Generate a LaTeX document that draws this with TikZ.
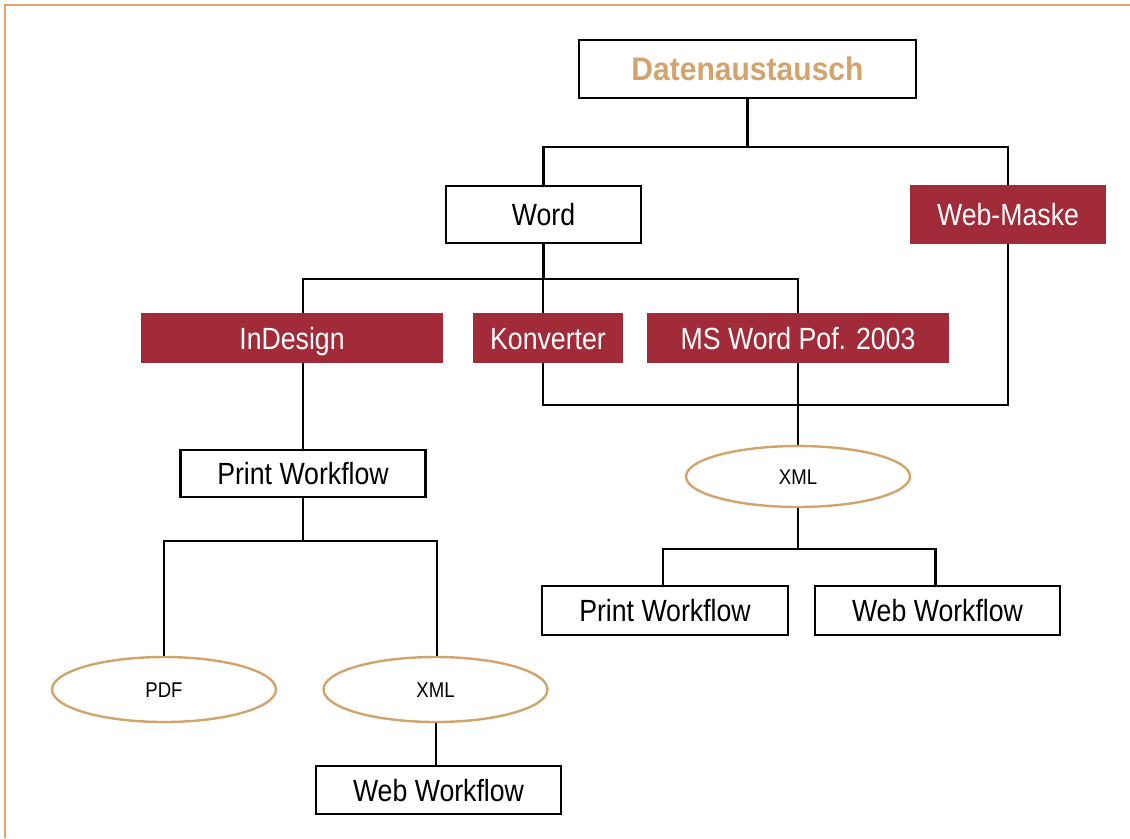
\documentclass[tikz,border=0pt]{standalone}
\usepackage{fontspec}
\setmainfont{Liberation Sans}[FakeStretch=0.87]
\newfontfamily\titlefont{Liberation Sans}[FakeStretch=0.92]
\usepackage{xcolor}
\usepackage{tikz}
\usetikzlibrary{shapes}

\definecolor{weinrot}{HTML}{A22B3A}
\definecolor{sand}{HTML}{D2A46C}
\definecolor{rahmen}{HTML}{E8A26E}

\tikzset{
  kasten/.style={draw=black,line width=2pt,fill=white,inner sep=0pt,
    text height=16.5pt,text depth=0pt,font=\fontsize{23}{26}\selectfont},
  rotkasten/.style={fill=weinrot,text=white,inner sep=0pt,
    text height=16.5pt,text depth=0pt,font=\fontsize{23}{26}\selectfont},
  oval/.style={draw=sand,line width=1.8pt,fill=white,shape=ellipse,inner sep=0pt,
    minimum width=168pt,text height=11.5pt,text depth=0pt,font=\fontsize{16}{18}\selectfont},
  linie/.style={line width=2pt}
}

\begin{document}
\begin{tikzpicture}[x=0.75pt,y=-0.75pt]
\useasboundingbox (0,0) rectangle (1130,838);
\draw [rahmen,line width=1.5pt] (4.5,838) -- (4.5,5.5) -- (1130,5.5);

\node (daten) at (747.5,69) [kasten,minimum width=252.75pt,minimum height=43.5pt,
  text=sand,text height=17.5pt,font=\titlefont\bfseries\fontsize{24.5}{28}\selectfont] {Datenaustausch};
\node (word) at (543.5,214.5) [kasten,minimum width=146.25pt,minimum height=42.75pt] {Word};
\node (webmaske) at (1008,214.5) [rotkasten,minimum width=147pt,minimum height=44.25pt] {Web-Maske};

\node (indesign) at (292,338) [rotkasten,minimum width=226.5pt,minimum height=37.5pt] {InDesign};
\node (konverter) at (548,338) [rotkasten,minimum width=112.5pt,minimum height=37.5pt] {Konverter};
\node (msword) at (798,338) [rotkasten,minimum width=226.5pt,minimum height=37.5pt] {MS Word Pof. 2003};

\node (printa) at (303,473.5) [kasten,minimum width=183.75pt,minimum height=35.25pt] {Print Workflow};
\node (pdf) at (164,689.5) [oval,minimum height=48.75pt] {PDF};
\node (xmla) at (435.5,689.5) [oval,minimum height=48.75pt] {XML};
\node (weba) at (438.5,790) [kasten,minimum width=183.75pt,minimum height=36pt] {Web Workflow};

\node (xmlb) at (798,476.5) [oval,minimum height=45.75pt] {XML};
\node (printb) at (665,610.5) [kasten,minimum width=184.5pt,minimum height=36.75pt] {Print Workflow};
\node (webb) at (937.5,610.5) [kasten,minimum width=183.75pt,minimum height=36.75pt] {Web Workflow};

% Verzweigungen
\coordinate (j1) at (747.5,147);
\coordinate (j2) at (543.5,279);
\coordinate (j3) at (543,405);
\coordinate (j4) at (303,541);
\coordinate (j5) at (798,549);

\draw [linie] (daten) -- (j1) -| (word.north);
\draw [linie] (j1) -| (webmaske.north);

\draw [linie] (word) -- (j2) -| ([xshift=8.25pt]indesign.north);
\draw [linie] (j2) -| ([xshift=-3.75pt]konverter.north);
\draw [linie] (j2) -| (msword.north);

\draw [linie] ([xshift=-3.75pt]konverter.south) |- (j3) -| (webmaske.south);
\draw [linie] (msword) -- (xmlb);

\draw [linie] ([xshift=8.25pt]indesign.south) -- (printa.north);
\draw [linie] (printa) -- (j4) -| (pdf.north);
\draw [linie] (j4) -| ([xshift=1pt]xmla.north);
\draw [linie] ([xshift=0.4pt]xmla.south) -- ([xshift=0.4pt]xmla.south |- weba.north);

\draw [linie] (xmlb) -- (j5) -| ([xshift=-1.5pt]printb.north);
\draw [linie] (j5) -| ([xshift=-1.5pt]webb.north);
\end{tikzpicture}
\end{document}
